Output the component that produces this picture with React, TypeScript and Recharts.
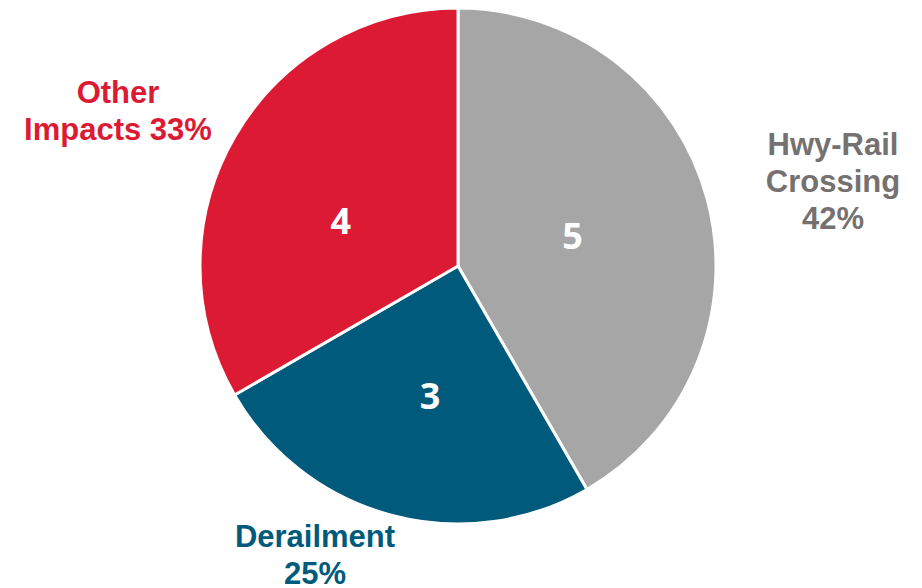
import { PieChart, Pie, Cell } from "recharts";

const categories = ["Hwy-Rail Crossing", "Derailment", "Other Impacts"];
const counts = [5, 3, 4];
const percentLabels = ["42%", "25%", "33%"];
const outsideLines = [
  ["Hwy-Rail", "Crossing", "42%"],
  ["Derailment", "25%"],
  ["Other", "Impacts 33%"],
];

const colors = ["#A6A6A6", "#005A7B", "#DC1A33"];
const textColors = ["#767171", "#005A7B", "#DC1A33"];

// where each outside label block sits, relative to the pie centre
const outsideOffsets = [
  { dx: 375, dy: -85 },
  { dx: -143, dy: 289 },
  { dx: -340, dy: -155 },
];
// small nudges for the white value labels
const innerNudge = [
  { dx: -5, dy: 2 },
  { dx: 4, dy: 10 },
  { dx: -10, dy: 16 },
];

const data = categories.map((name, i) => ({
  name,
  value: counts[i],
  pct: percentLabels[i],
}));

const RADIAN = Math.PI / 180;
const LINE_H = 37;

const renderLabel = (props: any) => {
  const { cx, cy, midAngle, outerRadius, index, value } = props;
  const r = outerRadius * 0.48;
  const x = cx + r * Math.cos(-midAngle * RADIAN) + innerNudge[index].dx;
  const y = cy + r * Math.sin(-midAngle * RADIAN) + innerNudge[index].dy;
  const lines = outsideLines[index];
  const off = outsideOffsets[index];
  const top = cy + off.dy - ((lines.length - 1) * LINE_H) / 2;
  return (
    <g>
      <text
        x={x}
        y={y}
        fill="#fff"
        textAnchor="middle"
        dominantBaseline="central"
        fontFamily="'Open Sans', sans-serif"
        fontWeight="bold"
        fontSize={36}
      >
        {value}
      </text>
      <text
        textAnchor="middle"
        fill={textColors[index]}
        fontFamily="'Liberation Sans', Arial, sans-serif"
        fontWeight="bold"
        fontSize={31}
      >
        {lines.map((ln, j) => (
          <tspan
            key={j}
            x={cx + off.dx}
            y={top + j * LINE_H}
            dominantBaseline="central"
          >
            {ln}
          </tspan>
        ))}
      </text>
    </g>
  );
};

export default function App() {
  return (
    <div style={{ position: "absolute", left: 0, top: 0 }}>
      <PieChart
        width={922}
        height={588}
        margin={{ top: 0, right: 0, bottom: 0, left: 0 }}
      >
        <Pie
          data={data}
          dataKey="value"
          cx={458}
          cy={266}
          outerRadius={258}
          startAngle={90}
          endAngle={-270}
          stroke="#fff"
          strokeWidth={3}
          label={renderLabel}
          labelLine={false}
          isAnimationActive={false}
        >
          {data.map((d, i) => (
            <Cell key={d.name} fill={colors[i]} />
          ))}
        </Pie>
      </PieChart>
    </div>
  );
}
